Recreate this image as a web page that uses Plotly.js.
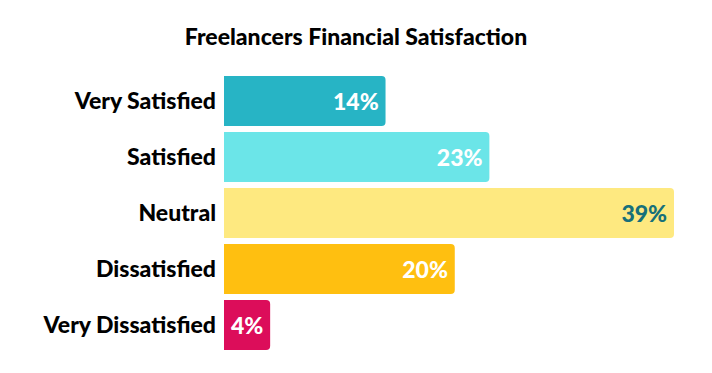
<!DOCTYPE html>
<html>
<head>
<meta charset="utf-8">
<script src="https://cdn.plot.ly/plotly-3.0.1.min.js"></script>
<style>html,body{margin:0;padding:0;background:#fff;}#chart{width:712px;height:373px;}</style>
</head>
<body>
<div id="chart"></div>
<script>
var categories = ["Very Satisfied", "Satisfied", "Neutral", "Dissatisfied", "Very Dissatisfied"];
var values = [14, 23, 39, 20, 4];
var barColors = ["#27B4C5", "#6BE5E8", "#FEE980", "#FFBF10", "#DC0D5A"];
var labelColors = ["#ffffff", "#ffffff", "#17707A", "#ffffff", "#ffffff"];

var FONT = "Lato, 'Source Sans Pro', sans-serif";

var trace = {
  type: "bar",
  orientation: "h",
  y: categories,
  x: values,
  marker: { color: barColors, cornerradius: 4, line: { width: 0 } },
  text: values.map(function (v) { return v + "%\u2009"; }),
  textposition: "inside",
  insidetextanchor: "end",
  textangle: 0,
  insidetextfont: { family: FONT, size: 23, color: labelColors, weight: 900 },
  hoverinfo: "none",
  cliponaxis: false
};

var layout = {
  width: 712,
  height: 373,
  margin: { l: 224, r: 38, t: 73, b: 20 },
  paper_bgcolor: "#ffffff",
  plot_bgcolor: "#ffffff",
  bargap: 0.107,
  showlegend: false,
  title: {
    text: "Freelancers Financial Satisfaction",
    font: { family: FONT, size: 23, color: "#000000", weight: 900 },
    x: 0.5, xanchor: "center", y: 0.9, yanchor: "middle", yref: "container"
  },
  xaxis: { range: [0, 39], visible: false, fixedrange: true },
  yaxis: {
    autorange: "reversed",
    showgrid: false, zeroline: false, showline: false, ticks: "",
    ticklabelstandoff: 7,
    tickfont: { family: FONT, size: 23, color: "#000000", weight: 900 }
  }
};

Plotly.newPlot("chart", [trace], layout, { displayModeBar: false, staticPlot: true });
</script>
</body>
</html>
